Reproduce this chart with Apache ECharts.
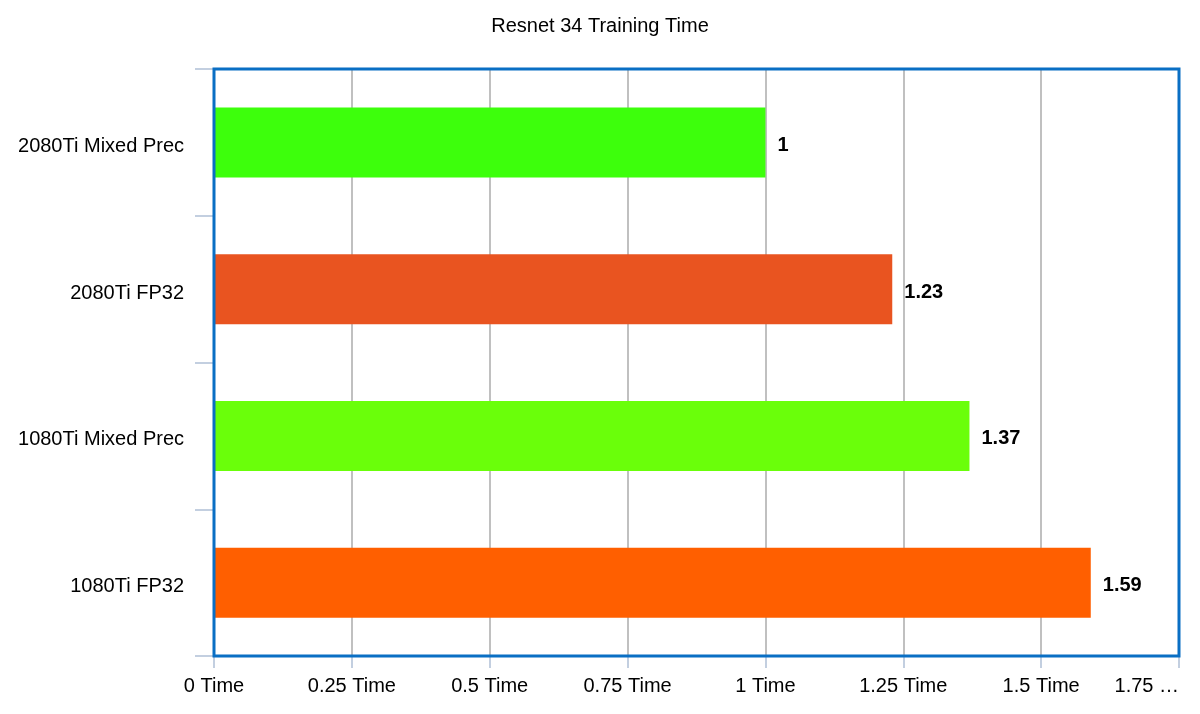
<!DOCTYPE html>
<html><head><meta charset="utf-8">
<script src="https://cdn.jsdelivr.net/npm/echarts@6/dist/echarts.min.js"></script>
<style>html,body{margin:0;padding:0;background:#fff}#c{width:1200px;height:714px}</style>
</head><body><div id="c"></div>
<script>
const categories = ['2080Ti Mixed Prec', '2080Ti FP32', '1080Ti Mixed Prec', '1080Ti FP32'];
const values = [1, 1.23, 1.37, 1.59];
const barColors = ['#3dff0c', '#e95420', '#6aff0a', '#ff5f00'];
const tickLabels = ['0 Time', '0.25 Time', '0.5 Time', '0.75 Time', '1 Time', '1.25 Time', '1.5 Time', '1.75 …'];

const chart = echarts.init(document.getElementById('c'));
chart.setOption({
  animation: false,
  title: {
    text: 'Resnet 34 Training Time', left: 'center', top: 11,
    textStyle: { fontFamily: 'Liberation Sans, Arial', fontSize: 20, fontWeight: 'normal', color: '#000' }
  },
  grid: { left: 214, right: 21, top: 69, bottom: 58, show: true, borderColor: '#0a6fc4', borderWidth: 3, backgroundColor: 'transparent', z: 10 },
  xAxis: {
    type: 'value', min: 0, max: 1.75, interval: 0.25,
    axisLine: { show: false },
    axisTick: { show: true, length: 12, lineStyle: { color: '#c3cfe0', width: 2 } },
    splitLine: { show: true, lineStyle: { color: '#c0c0c0', width: 2 } },
    axisLabel: {
      fontFamily: 'Liberation Sans, Arial', fontSize: 20, color: '#000', margin: 20,
      alignMaxLabel: 'right',
      formatter: function (v) { return tickLabels[Math.round(v / 0.25)]; }
    }
  },
  yAxis: {
    type: 'category', data: categories, inverse: true,
    axisLine: { show: true, lineStyle: { color: '#c3cfe0', width: 2 } },
    axisTick: { show: true, length: 19, lineStyle: { color: '#c3cfe0', width: 2 } },
    axisLabel: {
      margin: 30,
      formatter: function (v) { return '{a|' + v + '}'; },
      rich: { a: { fontFamily: 'Liberation Sans, Arial', fontSize: 20, color: '#000', padding: [8, 0, 0, 0] } }
    }
  },
  series: [{
    type: 'bar', barWidth: 70,
    data: values.map((v, i) => ({ value: v, itemStyle: { color: barColors[i] } })),
    label: { show: true, position: 'right', distance: 12, offset: [0, 3], fontFamily: 'Liberation Sans, Arial', fontSize: 20, fontWeight: 'bold', color: '#000' }
  }]
});
</script></body></html>
